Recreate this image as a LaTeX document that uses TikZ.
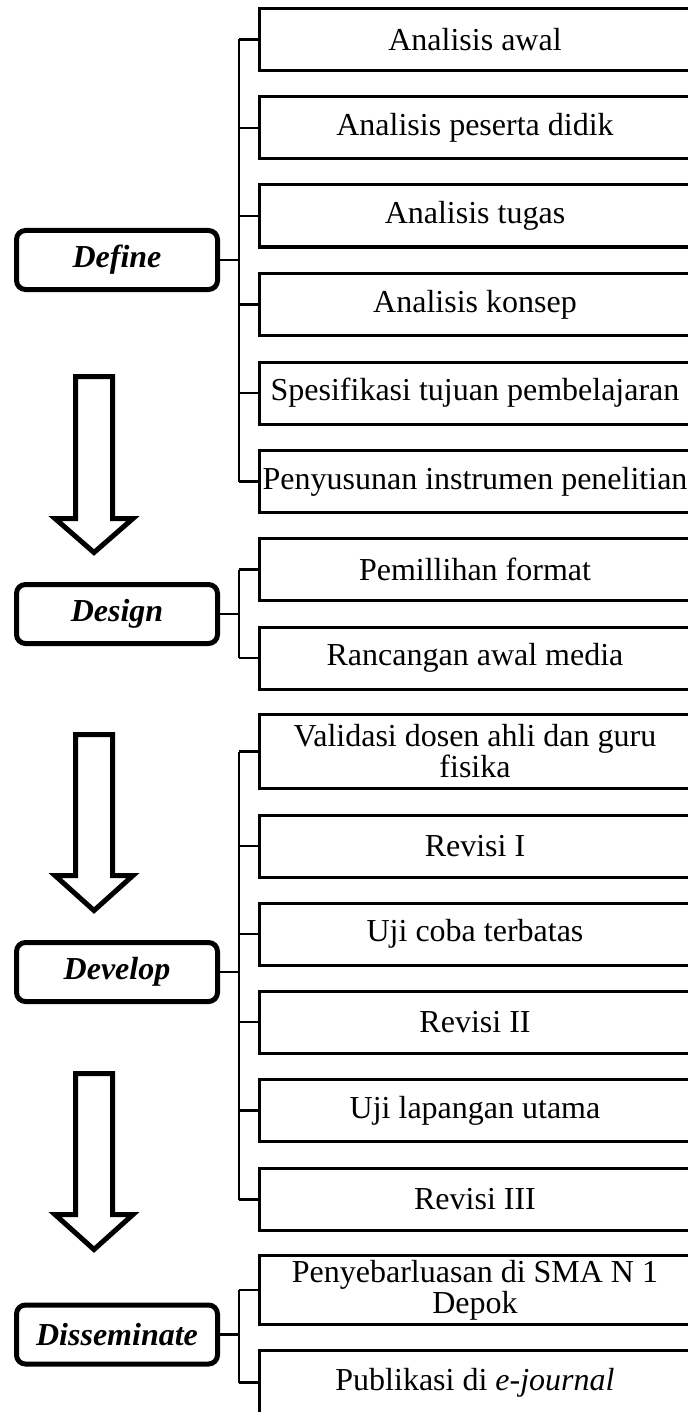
\documentclass[tikz,border=0pt]{standalone}
\usepackage{fontspec}
\setmainfont{Liberation Serif}
\begin{document}
\begin{tikzpicture}[x=0.5pt,y=-0.5pt,
  leaf/.style={draw, line width=1.5pt, minimum width=216pt, minimum height=31pt,
    inner sep=0pt, align=center, font=\fontsize{16pt}{15.5pt}\selectfont},
  phase/.style={draw, line width=2.5pt, rounded corners=4.5pt, minimum width=100.5pt,
    minimum height=29.5pt, inner sep=0pt, font=\fontsize{16pt}{16pt}\selectfont\bfseries\itshape},
  link/.style={line width=1.25pt},
  flow/.style={line width=2.5pt, line join=miter}
]
\useasboundingbox (0,0) rectangle (688,1412);

% ---------- Define ----------
\node[phase] (def) at (117,260) {Define};
\node[leaf] (d1) at (475,39.5)  {Analisis awal};
\node[leaf] (d2) at (475,128)   {Analisis peserta didik};
\node[leaf] (d3) at (475,216)   {Analisis tugas};
\node[leaf] (d4) at (475,304.5) {Analisis konsep};
\node[leaf] (d5) at (475,393)   {Spesifikasi tujuan pembelajaran};
\node[leaf] (d6) at (475,481.5) {Penyusunan instrumen penelitian};
\coordinate (dj) at ([xshift=9.5pt]def.east);
\draw[link] (def.east) -- (dj);
\draw[link] (dj |- d1.west) -- (dj |- d6.west);
\foreach \i in {1,...,6} \draw[link] (dj |- d\i.west) -- (d\i.west);

% ---------- Design ----------
\node[phase] (des) at (117,614) {Design};
\node[leaf] (g1) at (475,569.5) {Pemillihan format};
\node[leaf] (g2) at (475,658)   {Rancangan awal media};
\coordinate (gj) at ([xshift=9.5pt]des.east);
\draw[link] (des.east) -- (gj);
\draw[link] (gj |- g1.west) -- (gj |- g2.west);
\foreach \i in {1,2} \draw[link] (gj |- g\i.west) -- (g\i.west);

% ---------- Develop ----------
\node[phase] (dev) at (117,972) {Develop};
\node[leaf, minimum height=37pt] (v1) at (475,751.5) {Validasi dosen ahli dan guru\\fisika};
\node[leaf] (v2) at (475,846)    {Revisi I};
\node[leaf] (v3) at (475,934)    {Uji coba terbatas};
\node[leaf] (v4) at (475,1022)   {Revisi II};
\node[leaf] (v5) at (475,1110.5) {Uji lapangan utama};
\node[leaf] (v6) at (475,1199.5) {Revisi III};
\coordinate (vj) at ([xshift=9.5pt]dev.east);
\draw[link] (dev.east) -- (vj);
\draw[link] (vj |- v1.west) -- (vj |- v6.west);
\foreach \i in {1,...,6} \draw[link] (vj |- v\i.west) -- (v\i.west);

% ---------- Disseminate ----------
\node[phase] (dis) at (117,1334.5) {Disseminate};
\node[leaf, minimum height=34.5pt] (s1) at (475,1290) {Penyebarluasan di SMA N 1\\Depok};
\node[leaf, minimum height=32.5pt] (s2) at (475,1382.5) {Publikasi di \textit{e-journal}};
\coordinate (sj) at ([xshift=9.5pt]dis.east);
\draw[link] (dis.east) -- (sj);
\draw[link] (sj |- s1.west) -- (sj |- s2.west);
\foreach \i in {1,2} \draw[link] (sj |- s\i.west) -- (s\i.west);

% ---------- hollow down arrows between the phases ----------
\foreach \t/\b/\p in {376.5/518.5/552.5, 734.5/875.5/910.5, 1073.5/1214.5/1249.5}
  \draw[flow] (75.5,\t) -- (75.5,\b) -- (55,\b) -- (94,\p) -- (133,\b)
              -- (112.5,\b) -- (112.5,\t) -- cycle;
\end{tikzpicture}
\end{document}
